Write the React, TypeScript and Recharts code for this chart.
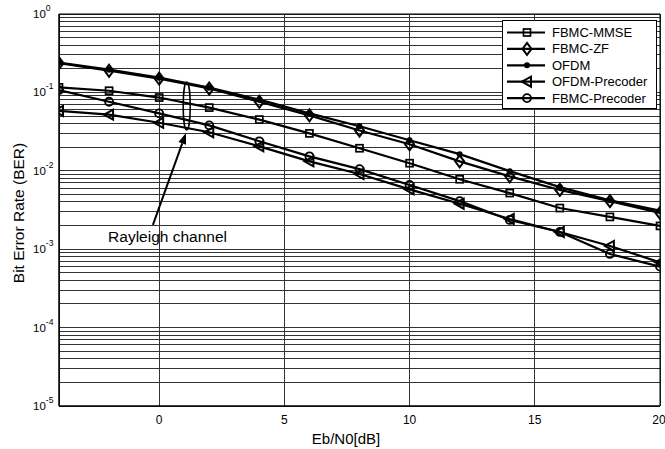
import React from "react"
import {
  CartesianGrid,
  Label,
  Legend,
  Line,
  LineChart,
  ReferenceArea,
  ReferenceDot,
  ReferenceLine,
  XAxis,
  YAxis,
} from "recharts"

// Eb/N0 in dB
const snr = [-4, -2, 0, 2, 4, 6, 8, 10, 12, 14, 16, 18, 20]

const fbmcMmse = [0.116, 0.105, 0.086, 0.064, 0.045, 0.03, 0.0194, 0.0125, 0.0078, 0.0052, 0.00335, 0.00258, 0.00198]
const fbmcZf = [0.236, 0.189, 0.15, 0.112, 0.076, 0.051, 0.0327, 0.0218, 0.0132, 0.0085, 0.0057, 0.0041, 0.0029]
const ofdm = [0.24, 0.195, 0.154, 0.115, 0.081, 0.054, 0.037, 0.0245, 0.0163, 0.0099, 0.0062, 0.0042, 0.0031]
const ofdmPrecoder = [0.058, 0.052, 0.041, 0.031, 0.0205, 0.0132, 0.0091, 0.0058, 0.0038, 0.00243, 0.00166, 0.0011, 0.00068]
const fbmcPrecoder = [0.107, 0.076, 0.054, 0.038, 0.0238, 0.0153, 0.0105, 0.0066, 0.0041, 0.00236, 0.00166, 0.00087, 0.0006]

const xTicks = [0, 5, 10, 15, 20]
const decades = [1e-5, 1e-4, 1e-3, 1e-2, 1e-1, 1]
const minorSteps = [2, 3, 4, 5, 6, 7, 8, 9]

const yTicks: number[] = []
decades.forEach((d, i) => {
  yTicks.push(d)
  if (i < decades.length - 1) minorSteps.forEach((m) => yTicks.push(m * d))
})

const data = snr.map((s, i) => ({
  snr: s,
  mmse: fbmcMmse[i],
  zf: fbmcZf[i],
  ofdm: ofdm[i],
  ofdmPre: ofdmPrecoder[i],
  fbmcPre: fbmcPrecoder[i],
}))

const SquareMark = (p: any) =>
  p.cx == null ? <g key={p.index} /> : (
    <rect key={p.index} x={p.cx - 3.5} y={p.cy - 3.5} width={7} height={7} fill="none" stroke="#000" strokeWidth={1.7} />
  )

const DiamondMark = (p: any) =>
  p.cx == null ? <g key={p.index} /> : (
    <polygon
      key={p.index}
      points={`${p.cx},${p.cy - 6} ${p.cx + 4.5},${p.cy} ${p.cx},${p.cy + 6} ${p.cx - 4.5},${p.cy}`}
      fill="none"
      stroke="#000"
      strokeWidth={2}
    />
  )

const PointMark = (p: any) =>
  p.cx == null ? <g key={p.index} /> : <circle key={p.index} cx={p.cx} cy={p.cy} r={3} fill="#000" />

const TriangleMark = (p: any) =>
  p.cx == null ? <g key={p.index} /> : (
    <polygon
      key={p.index}
      points={`${p.cx - 5},${p.cy} ${p.cx + 4},${p.cy - 5} ${p.cx + 4},${p.cy + 5}`}
      fill="none"
      stroke="#000"
      strokeWidth={2}
    />
  )

const CircleMark = (p: any) =>
  p.cx == null ? <g key={p.index} /> : (
    <circle key={p.index} cx={p.cx} cy={p.cy} r={4} fill="none" stroke="#000" strokeWidth={1.8} />
  )

const series = [
  { key: "mmse", name: "FBMC-MMSE", mark: SquareMark },
  { key: "zf", name: "FBMC-ZF", mark: DiamondMark },
  { key: "ofdm", name: "OFDM", mark: PointMark },
  { key: "ofdmPre", name: "OFDM-Precoder", mark: TriangleMark },
  { key: "fbmcPre", name: "FBMC-Precoder", mark: CircleMark },
]

const isDecade = (v: number) => Math.abs(Math.log10(v) - Math.round(Math.log10(v))) < 1e-6

const YTick = (props: any) => {
  const { y, payload } = props
  if (!isDecade(payload.value)) return <g />
  const exp = Math.round(Math.log10(payload.value))
  return (
    <text x={33} y={y} dominantBaseline="central" fontSize={11.5} fill="#000">
      <tspan>10</tspan>
      <tspan dy={-6} fontSize={8.5}>{exp}</tspan>
    </text>
  )
}

const renderLegend = () => (
  <svg width={155} height={89}>
    <rect x={0.5} y={0.5} width={154} height={88} fill="#fff" stroke="#000" />
    {series.map((s, i) => {
      const y = 12.5 + i * 16.4
      return (
        <g key={s.key}>
          <line x1={5} x2={43} y1={y} y2={y} stroke="#000" strokeWidth={2.2} />
          {s.mark({ cx: 25, cy: y, index: i })}
          <text x={50} y={y} dominantBaseline="central" fontSize={13} fill="#000">
            {s.name}
          </text>
        </g>
      )
    })}
  </svg>
)

const Arrow = (p: any) => {
  const { x1, y1, x2, y2 } = p
  const dx = x2 - x1
  const dy = y2 - y1
  const len = Math.sqrt(dx * dx + dy * dy)
  const ux = dx / len
  const uy = dy / len
  const hl = 11
  const hw = 4
  const bx = x2 - ux * hl
  const by = y2 - uy * hl
  return (
    <g>
      <line x1={x1} y1={y1} x2={bx} y2={by} stroke="#000" strokeWidth={2} />
      <polygon points={`${x2},${y2} ${bx - uy * hw},${by + ux * hw} ${bx + uy * hw},${by - ux * hw}`} fill="#000" />
    </g>
  )
}

export default function App() {
  return (
    <div style={{ position: "absolute", left: 0, top: 0, fontFamily: "'Liberation Sans', Arial, sans-serif", background: "#fff" }}>
      <LineChart width={665} height={449} data={data} margin={{ top: 14, right: 5, bottom: 0, left: 0 }}>
        <CartesianGrid stroke="#333" strokeWidth={1} shapeRendering="crispEdges" />
        <XAxis
          dataKey="snr"
          type="number"
          domain={[-4, 20]}
          ticks={xTicks}
          allowDataOverflow
          height={43}
          tickLine={false}
          tickSize={0}
          tickMargin={9}
          axisLine={{ stroke: "#000" }}
          tick={{ fill: "#000", fontSize: 12 }}
        >
          <Label
            content={() => (
              <text x={346} y={438} textAnchor="middle" dominantBaseline="central" fontSize={15} fill="#000">
                Eb/N0[dB]
              </text>
            )}
          />
        </XAxis>
        <YAxis
          type="number"
          scale="log"
          domain={[1e-5, 1]}
          ticks={yTicks}
          interval={0}
          allowDataOverflow
          width={59}
          tickLine={false}
          axisLine={{ stroke: "#000" }}
          tick={<YTick />}
        >
          <Label
            content={() => (
              <text
                x={18}
                y={213}
                transform="rotate(-90 18 213)"
                textAnchor="middle"
                dominantBaseline="central"
                fontSize={15.5}
                fill="#000"
              >
                Bit Error Rate (BER)
              </text>
            )}
          />
        </YAxis>
        <ReferenceArea x1={-4} x2={20} y1={1e-5} y2={1} fill="none" stroke="#000" strokeWidth={1} />
        {series.map((s) => (
          <Line
            key={s.key}
            dataKey={s.key}
            name={s.name}
            type="linear"
            stroke="#000"
            strokeWidth={2.2}
            dot={s.mark}
            activeDot={false}
            isAnimationActive={false}
          />
        ))}
        <ReferenceDot
          x={1.1}
          y={0.067}
          shape={(p: any) => <ellipse cx={p.cx} cy={p.cy} rx={3.5} ry={24} fill="none" stroke="#000" strokeWidth={1.5} />}
        />
        <ReferenceLine
          segment={[
            { x: -0.25, y: 0.00204 },
            { x: 1.07, y: 0.0303 },
          ]}
          shape={Arrow}
        />
        <ReferenceDot
          x={-2.04}
          y={0.00147}
          shape={(p: any) => (
            <text x={p.cx} y={p.cy} dominantBaseline="central" fontSize={15.5} fill="#000">
              Rayleigh channel
            </text>
          )}
        />
        <Legend
          layout="vertical"
          align="center"
          verticalAlign="middle"
          content={renderLegend}
          wrapperStyle={{ left: 502, top: 20, width: 155, height: 89 }}
        />
      </LineChart>
    </div>
  )
}
